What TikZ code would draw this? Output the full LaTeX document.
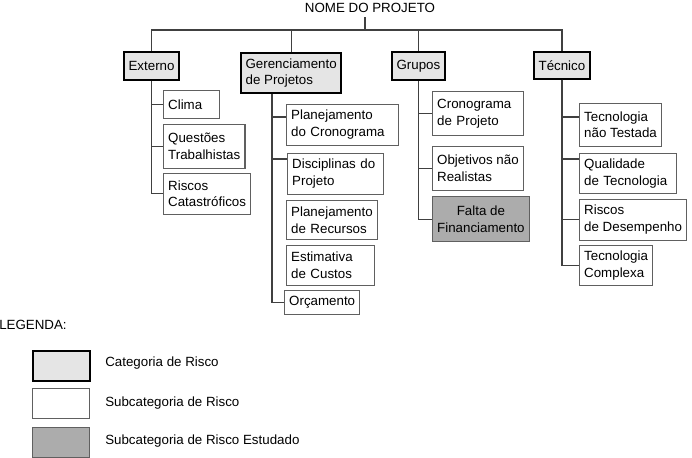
\documentclass[tikz,border=0pt]{standalone}
\usepackage{fontspec}
\setmainfont{Liberation Sans}
\begin{document}
\begin{tikzpicture}[x=0.75pt,y=-0.75pt,font=\fontsize{10}{12.5}\selectfont]
    % ===== PARAMETERS =====
    \pgfmathsetmacro{\W}{692}   % total width (px)
    \pgfmathsetmacro{\H}{457}   % total height (px)
    \pgfmathsetmacro{\Bar}{30}  % level of the top bar
    \pgfmathsetmacro{\LX}{32}   % left of legend boxes
    \pgfmathsetmacro{\TX}{105}  % left of legend texts

    \useasboundingbox (0,0) rectangle (\W,\H);

    % ===== STYLES =====
    \tikzset{
        cat/.style={
            draw=black, line width=1.4pt, fill=gray!20,
            align=left, inner xsep=3.5pt, minimum height=21pt,
            anchor=north west
        },
        sub/.style={
            draw=gray!75!black, line width=0.8pt, fill=white,
            align=left, inner xsep=3.5pt, minimum height=30.5pt,
            anchor=north west
        },
        studied/.style={sub, fill=gray!65, align=center},
        boxw/.style={text width=#1},   % fixed box width, text kept left
        link/.style={draw=black!75, line width=0.9pt},
        legtext/.style={anchor=west, inner sep=0pt}
    }

    % ===== TITLE AND CATEGORIES =====
    \node (titulo) at (370,8) {NOME DO PROJETO};
    \coordinate (bar) at (365,\Bar);

    \node[cat] (ext) at (123,51) {Externo};
    \node[cat, minimum height=30pt] (ger) at (240,52) {Gerenciamento\\de Projetos};
    \node[cat] (gru) at (391,51) {Grupos};
    \node[cat, minimum height=20pt] (tec) at (533,51) {Técnico};

    % ===== SUBCATEGORIES =====
    % Externo
    \node[sub, boxw=35pt, minimum height=21pt] (cli) at (163,90) {Clima};
    \node[sub, minimum height=33pt] (que) at (163,124) {Questões\\Trabalhistas};
    \node[sub] (rca) at (163,173) {Riscos\\Catastróficos};

    % Gerenciamento de Projetos
    \node[sub, boxw=77pt] (pcr) at (286,104) {Planejamento\\do Cronograma};
    \node[sub, boxw=65pt] (dis) at (287,153) {Disciplinas do\\Projeto};
    \node[sub, boxw=61.25pt, minimum height=29.5pt] (pre) at (286,200) {Planejamento\\de Recursos};
    \node[sub, boxw=59pt, minimum height=30pt] (est) at (286,245) {Estimativa\\de Custos};
    \node[sub, minimum height=18pt] (orc) at (284,290) {Orçamento};

    % Grupos
    \node[sub, boxw=61.25pt, minimum height=33pt] (cro) at (432,91) {Cronograma\\de Projeto};
    \node[sub, minimum height=33pt] (obj) at (432,146) {Objetivos não\\Realistas};
    \node[studied, minimum height=34pt] (fal) at (432,196) {Falta de\\Financiamento};

    % Técnico
    \node[sub, minimum height=32pt] (tnt) at (579,103) {Tecnologia\\não Testada};
    \node[sub, boxw=65.75pt, minimum height=30pt] (qua) at (579,153) {Qualidade\\de Tecnologia};
    \node[sub] (rde) at (579,199) {Riscos\\de Desempenho};
    \node[sub, minimum height=30pt] (tco) at (579,245) {Tecnologia\\Complexa};

    % ===== CONNECTORS =====
    \draw[link] (bar |- titulo.south) -- (bar);
    \draw[link] (ext.north) -- (ext.north |- bar) -- (tec.north |- bar) -- (tec.north);
    \draw[link] (ger.north) -- (ger.north |- bar);
    \draw[link] (gru.north) -- (gru.north |- bar);

    \foreach \c in {cli,que,rca}
        \draw[link] (ext.south) |- (\c.west);

    \coordinate (gerspine) at ([xshift=24pt]ger.south west);
    \draw[link] (gerspine) |- ([yshift=-9.75pt]pcr.north west);
    \draw[link] (gerspine) |- ([yshift=-4.5pt]dis.north west);
    \draw[link] (gerspine) |- (orc.west);

    \foreach \c in {cro,obj,fal}
        \draw[link] (gru.south) |- (\c.west);

    \draw[link] (tec.south) |- ([yshift=-10.5pt]tnt.north west);
    \draw[link] (tec.south) |- ([yshift=-4.5pt]qua.north west);
    \foreach \c in {rde,tco}
        \draw[link] (tec.south) |- (\c.west);

    % ===== LEGEND =====
    \node[legtext] (legenda) at (-1,325) {LEGENDA:};

    \node[cat, minimum width=42.75pt, minimum height=22.5pt] (legcat) at (\LX,350) {};
    \node[sub, minimum width=42.75pt, minimum height=22.5pt] (legsub) at (\LX,388) {};
    \node[studied, minimum width=42.75pt, minimum height=22.5pt] (legest) at (\LX,427) {};

    \node[legtext] (txtcat) at (\TX,363) {Categoria de Risco};
    \node[legtext] (txtsub) at (\TX,403) {Subcategoria de Risco};
    \node[legtext] (txtest) at (\TX,441) {Subcategoria de Risco Estudado};
\end{tikzpicture}
\end{document}
